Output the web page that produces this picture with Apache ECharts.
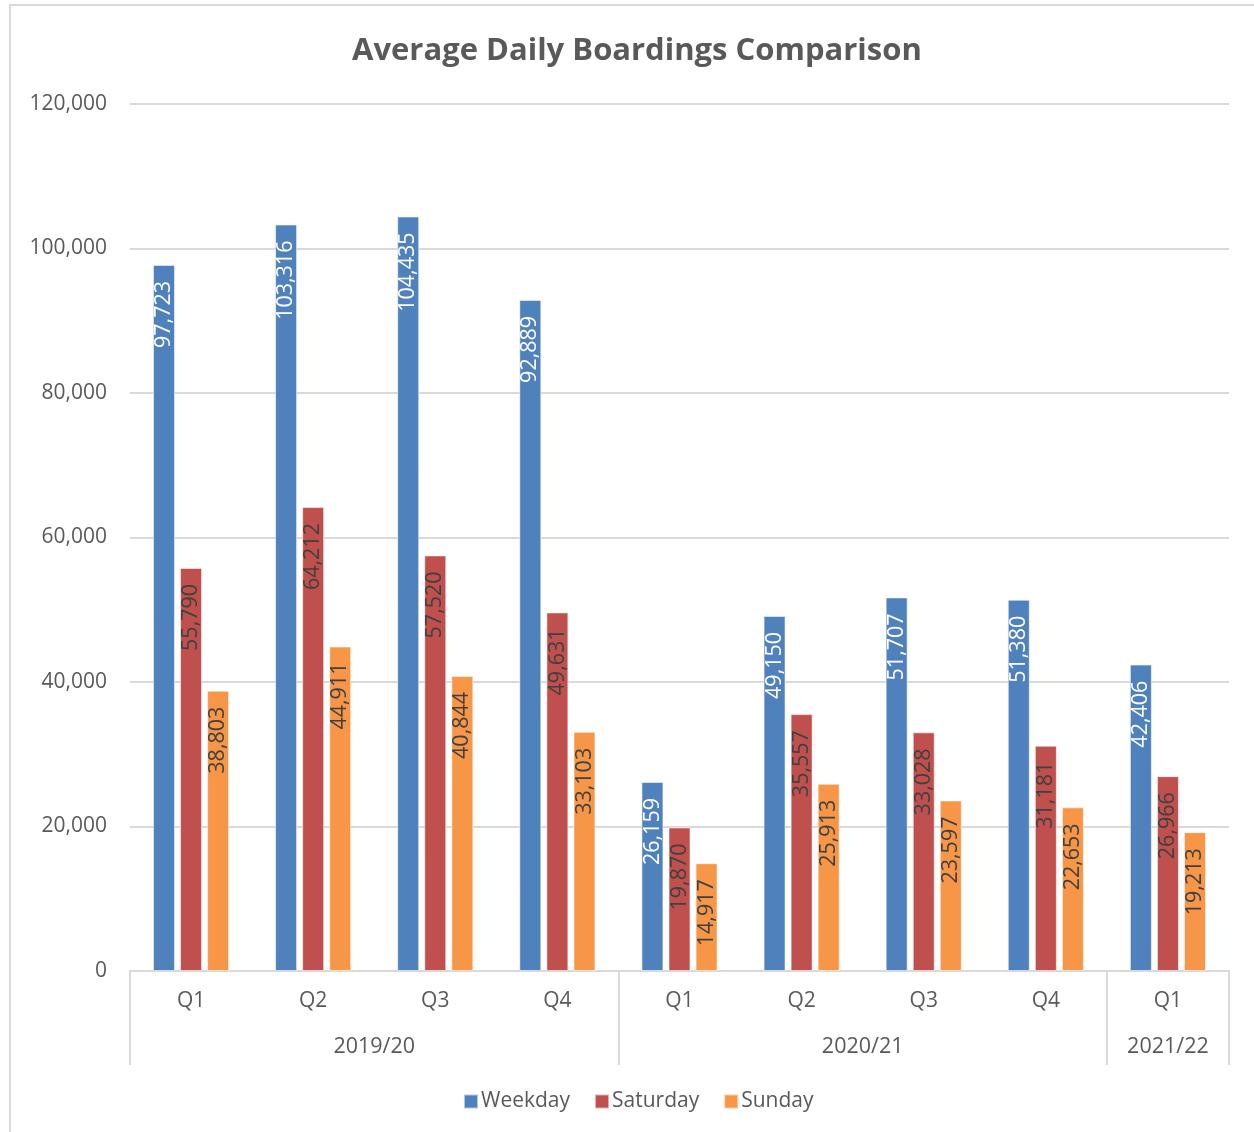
<!DOCTYPE html>
<html>
<head>
<meta charset="utf-8">
<title>Average Daily Boardings Comparison</title>
<script src="https://cdn.jsdelivr.net/npm/echarts@6/dist/echarts.min.js"></script>
<style>
  html, body { margin: 0; padding: 0; background: #fff; }
  #chart { width: 1254px; height: 1132px; }
</style>
</head>
<body>
<div id="chart"></div>
<script>
// Quarter labels and the fiscal year each belongs to
const quarters = ['Q1', 'Q2', 'Q3', 'Q4', 'Q1', 'Q2', 'Q3', 'Q4', 'Q1'];
const fiscalYears = ['2019/20', '2020/21', '2021/22'];
// Year group boundaries and centres, in category units along the x axis
const yearBounds = [0, 4, 8, 9];
const yearCentres = [2, 6, 8.5];

// Average daily boardings per quarter
const weekday  = [97723, 103316, 104435, 92889, 26159, 49150, 51707, 51380, 42406];
const saturday = [55790, 64212, 57520, 49631, 19870, 35557, 33028, 31181, 26966];
const sunday   = [38803, 44911, 40844, 33103, 14917, 25913, 23597, 22653, 19213];

// Value axis ticks
const yTicks = [0, 20000, 40000, 60000, 80000, 100000, 120000];

const FONT = '"Open Sans", "Noto Sans", sans-serif';
const TEXT = '#595959';
const GRID = '#d9d9d9';

const fmt = v => Number(v).toLocaleString('en-US');

function barSeries(name, data, color, labelColor) {
  return {
    name: name,
    type: 'bar',
    data: data,
    xAxisIndex: 0,
    barWidth: 22,
    barGap: '23%',
    itemStyle: { color: color, borderColor: 'rgba(255,255,255,0.55)', borderWidth: 1 },
    label: {
      show: true,
      position: 'insideTop',
      rotate: 90,
      align: 'right',
      verticalAlign: 'middle',
      distance: 16,
      color: labelColor,
      fontFamily: FONT,
      fontSize: 21.5,
      formatter: p => fmt(p.value)
    }
  };
}

const chart = echarts.init(document.getElementById('chart'), null, { renderer: 'canvas' });

chart.setOption({
  backgroundColor: '#ffffff',
  animation: false,
  title: {
    text: 'Average Daily Boardings Comparison',
    left: 347,
    top: 31,
    textStyle: { fontFamily: FONT, fontSize: 31, fontWeight: 'bold', color: TEXT }
  },
  graphic: [{
    type: 'rect',
    shape: { x: 10, y: 5, width: 1300, height: 1200 },
    style: { fill: 'none', stroke: GRID, lineWidth: 2 },
    silent: true,
    z: -1
  }],
  legend: {
    bottom: 15,
    left: 458,
    itemWidth: 14,
    itemHeight: 14,
    itemGap: 24,
    icon: 'rect',
    textStyle: { fontFamily: FONT, fontSize: 21, color: TEXT, padding: [0, 0, 0, -2] },
    data: ['Weekday', 'Saturday', 'Sunday']
  },
  grid: { left: 130, right: 25, top: 104, bottom: 161, containLabel: false },
  xAxis: [
    {
      type: 'category',
      data: quarters,
      axisLine: { lineStyle: { color: GRID, width: 2 } },
      axisTick: { show: false },
      axisLabel: { fontFamily: FONT, fontSize: 21, color: TEXT, margin: 20 }
    },
    {
      type: 'value',
      position: 'bottom',
      min: 0,
      max: quarters.length,
      splitLine: { show: false },
      axisLine: { show: false },
      axisTick: {
        show: true,
        customValues: yearBounds,
        length: 94,
        lineStyle: { color: GRID, width: 2 }
      },
      axisLabel: {
        customValues: yearCentres,
        formatter: v => fiscalYears[yearCentres.indexOf(v)] || '',
        fontFamily: FONT, fontSize: 21.5, color: TEXT, margin: 65
      }
    }
  ],
  yAxis: {
    type: 'value',
    min: 0,
    max: 120000,
    interval: 20000,
    axisLine: { show: false },
    axisTick: { show: false },
    splitLine: { lineStyle: { color: GRID, width: 2 } },
    axisLabel: {
      fontFamily: FONT, fontSize: 21, color: TEXT, margin: 23,
      formatter: v => yTicks.includes(v) ? fmt(v) : ''
    }
  },
  series: [
    barSeries('Weekday', weekday, '#4f81bd', '#ffffff'),
    barSeries('Saturday', saturday, '#c0504d', '#404040'),
    barSeries('Sunday', sunday, '#f79646', '#404040')
  ]
});
</script>
</body>
</html>
